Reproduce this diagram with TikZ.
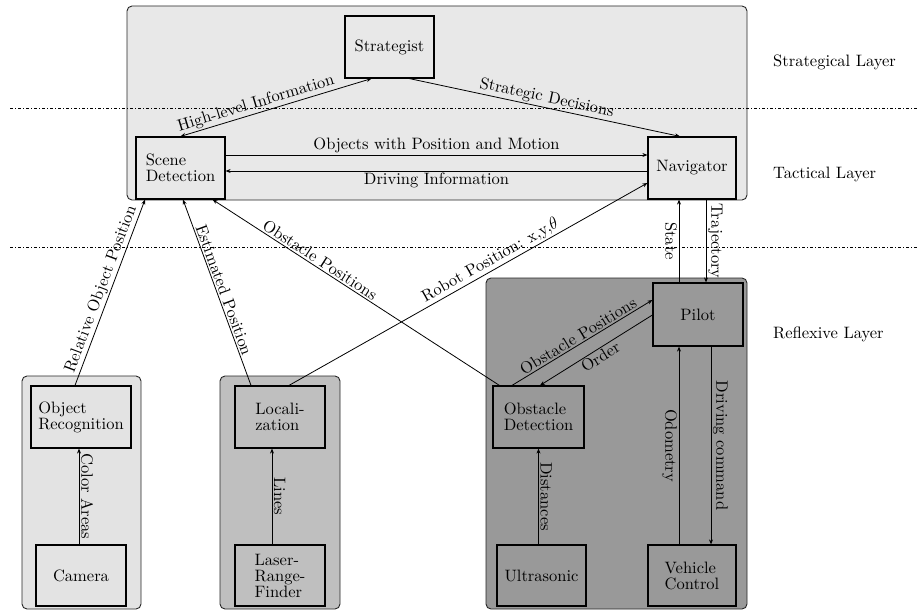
\documentclass[tikz,border=0pt]{standalone}
\usepackage{fontspec}
\setmainfont{lmroman10-regular.otf}
\usetikzlibrary{arrows.meta,calc}
\definecolor{topfill}{gray}{0.91}
\definecolor{lfill}{gray}{0.89}
\definecolor{mfill}{gray}{0.75}
\definecolor{dfill}{gray}{0.60}
\begin{document}
\begin{tikzpicture}[x=1pt,y=-1pt,
  font=\fontsize{16.5}{16}\selectfont,
  box/.style={draw, line width=1.2pt, inner sep=1pt, align=left},
  grp/.style={draw=black!85, line width=0.9pt, rounded corners=5pt},
  conn/.style={line width=0.8pt, -{Stealth[length=5pt,width=4pt]}},
  biconn/.style={line width=0.8pt, {Stealth[length=5pt,width=4pt]}-{Stealth[length=5pt,width=4pt]}},
  lab/.style={inner sep=1.5pt},
  layerline/.style={dash pattern=on 3pt off 2pt on 1pt off 2pt, line width=0.6pt},
  layertext/.style={anchor=west, inner sep=0pt},
]
\useasboundingbox (0,0) rectangle (917,610);

% containers
\draw[grp, fill=topfill] (127,6) rectangle (747,200);
\draw[grp, fill=lfill] (22,376) rectangle (141,609);
\draw[grp, fill=mfill] (220,376) rectangle (340,609);
\draw[grp, fill=dfill] (486,278) rectangle (747,609);

% layer separators
\draw[layerline] (10,108) -- (917,108);
\draw[layerline] (10,247) -- (917,247);

% layer names
\node[layertext] (lstrat) at (773,62) {Strategical Layer};
\node[layertext] (ltact) at (773,174) {Tactical Layer};
\node[layertext] (lrefl) at (773,334) {Reflexive Layer};

% boxes
\node[box, fill=topfill, minimum width=89pt, minimum height=62pt] (strat) at (389.5,47) {Strategist};
\node[box, fill=topfill, minimum width=89pt, minimum height=62pt] (scene) at (180.5,168) {Scene\\Detection};
\node[box, fill=topfill, minimum width=88pt, minimum height=62pt] (nav) at (692,168) {Navigator};

\node[box, fill=lfill, minimum width=100pt, minimum height=62pt] (objrec) at (81,417) {Object\\Recognition};
\node[box, fill=lfill, minimum width=90pt, minimum height=61pt] (camera) at (81,575.5) {Camera};

\node[box, fill=mfill, minimum width=90pt, minimum height=62pt] (loc) at (280,417) {Locali-\\zation};
\node[box, fill=mfill, minimum width=90pt, minimum height=61pt] (laser) at (280,575.5) {Laser-\\Range-\\Finder};

\node[box, fill=dfill, minimum width=90pt, minimum height=63pt] (pilot) at (698,314.5) {Pilot};
\node[box, fill=dfill, minimum width=91pt, minimum height=62pt] (obst) at (538.5,417) {Obstacle\\Detection};
\node[box, fill=dfill, minimum width=89pt, minimum height=61pt] (ultra) at (541.5,575.5) {Ultrasonic};
\node[box, fill=dfill, minimum width=88pt, minimum height=61pt] (vehicle) at (692,575.5) {Vehicle\\Control};

% tactical / strategical connectors
\draw[biconn] (scene.north) -- node[lab, pos=0.41, sloped, above] {High-level Information} ([xshift=-18pt]strat.south);
\draw[conn] ([xshift=20pt]strat.south) -- node[lab, pos=0.5, sloped, above] {Strategic Decisions} ([xshift=-12pt]nav.north);
\draw[conn] ([yshift=13pt]scene.east) -- node[lab, above] {Objects with Position and Motion} ([yshift=13pt]nav.west);
\draw[conn] ([yshift=-3pt]nav.west) -- node[lab, below] {Driving Information} ([yshift=-3pt]scene.east);

% into scene detection
\draw[conn] ([xshift=-6pt]objrec.north) -- node[lab, pos=0.5, sloped, above] {Relative Object Position} ([xshift=-35.5pt]scene.south);
\draw[conn] ([xshift=-29pt]loc.north) -- node[lab, pos=0.5, sloped, above] {Estimated Position} ([xshift=2.5pt]scene.south);
\draw[conn] ([xshift=7pt]obst.north west) -- node[lab, pos=0.64, sloped, above] {Obstacle Positions} ([xshift=-13pt]scene.south east);
\draw[conn] ([xshift=9pt]loc.north) -- node[lab, pos=0.575, sloped, above] {Robot Position: x,y,$\theta$} ([yshift=-15pt]nav.west);

% navigator <-> pilot
\draw[conn] ([xshift=-19pt]pilot.north) -- node[lab, midway, rotate=-90, anchor=north] {State} ([xshift=-13pt]nav.south);
\draw[conn] ([xshift=14pt]nav.south) -- node[lab, midway, rotate=-90, anchor=south] {Trajectory} ([xshift=8pt]pilot.north);

% reflexive layer
\draw[conn] ([xshift=-26.5pt]obst.north) -- node[lab, pos=0.5, sloped, above] {Obstacle Positions} ([yshift=14.5pt]pilot.west);
\draw[conn] ([yshift=-0.5pt]pilot.west) -- node[lab, pos=0.5, sloped, below] {Order} ([xshift=1.5pt]obst.north);
\draw[conn] ([xshift=-13pt]vehicle.north) -- node[lab, midway, rotate=-90, anchor=north] {Odometry} ([xshift=-19pt]pilot.south);
\draw[conn] ([xshift=13pt]pilot.south) -- node[lab, midway, rotate=-90, anchor=south] {Driving command} ([xshift=19pt]vehicle.north);
\draw[conn] (ultra.north -| obst.south) -- node[lab, midway, rotate=-90, anchor=south] {Distances} (obst.south);
\draw[conn] ([xshift=-2pt]camera.north) -- node[lab, midway, rotate=-90, anchor=south] {Color Areas} ([xshift=-2pt]objrec.south);
\draw[conn] ([xshift=-8pt]laser.north) -- node[lab, midway, rotate=-90, anchor=south] {Lines} ([xshift=-8pt]loc.south);
\end{tikzpicture}
\end{document}
